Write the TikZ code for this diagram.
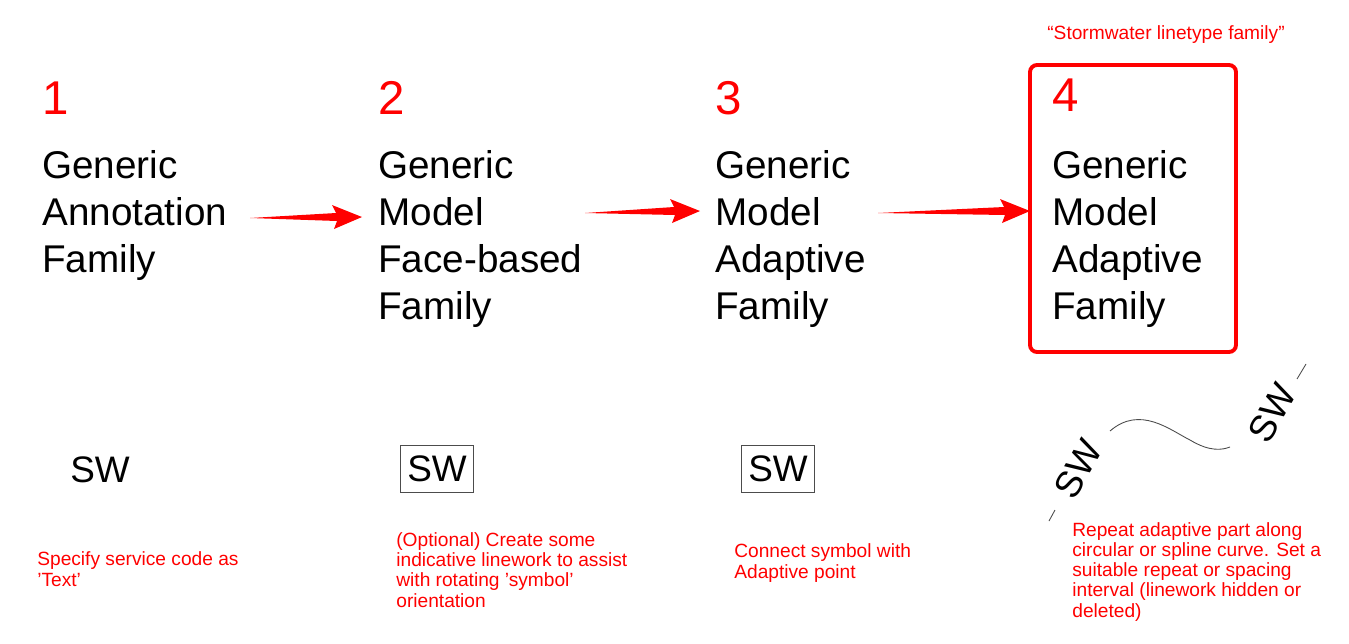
\documentclass[tikz,border=0pt]{standalone}
\usepackage{fontspec}
\setmainfont{Liberation Sans}
\usetikzlibrary{positioning}
\begin{document}
\begin{tikzpicture}
[
x=0.02cm,y=-0.02cm,
big/.style={anchor=base west,inner sep=0pt,align=left,font=\fontsize{22}{26.7}\selectfont},
num/.style={anchor=base west,inner sep=0pt,text=red,font=\fontsize{27}{30}\selectfont},
note/.style={anchor=base west,inner sep=0pt,align=left,text=red,font=\fontsize{10.9}{11.5}\selectfont},
sw/.style={inner sep=0pt,font=\fontsize{21}{24}\selectfont},
swbox/.style={sw,draw=black!70,line width=0.6pt,inner xsep=4pt,inner ysep=6pt},
fatarrow/.style={fill=red,draw=none},
]
\useasboundingbox (0,0) rectangle (1349,643);

%Headings
\node[num] (n1) at (42,114) {1};
\node[num] (n2) at (378,114) {2};
\node[num] (n3) at (715,114) {3};
\node[num] (n4) at (1052,111) {4};
\node[note] (title) at (1047,39) {``Stormwater linetype family''};

%Family names
\node[big] (f1) at (42,272) {Generic\\Annotation\\Family};
\node[big] (f2) at (378,319) {Generic\\Model\\Face-based\\Family};
\node[big] (f3) at (715,319) {Generic\\Model\\Adaptive\\Family};
\node[big] (f4) at (1052,319) {Generic\\Model\\Adaptive\\Family};
\draw[red,line width=2.2pt,rounded corners=4pt] (1030,65) rectangle (1236,352);

%Arrows
\coordinate (a1) at (250,218); \coordinate (b1) at (362,217);
\coordinate (a2) at (585,213); \coordinate (b2) at (700,211);
\coordinate (a3) at (878,213); \coordinate (b3) at (1030,211);
\foreach \s/\e in {a1/b1,a2/b2,a3/b3}{
  \fill[fatarrow] (\s) -- ([shift={(-26,-4)}]\e) -- ([shift={(-30,-12)}]\e) -- (\e)
    -- ([shift={(-28,12)}]\e) -- ([shift={(-25,4)}]\e) -- cycle;
}

%Symbols
\node[sw] (s1) at (100,470) {SW};
\node[swbox] (s2) at (437,469) {SW};
\node[swbox] (s3) at (778,469) {SW};
\node[sw,rotate=60] (s4a) at (1078,469) {SW};
\node[sw,rotate=60] (s4b) at (1272,413) {SW};
\draw[black!70,line width=0.5pt] (1110,431) .. controls (1140,405) and (1170,430) .. (1190,440) .. controls (1210,452) and (1222,450) .. (1230,447);
\draw[black!70,line width=0.5pt] (1049,521) -- (1055,510);
\draw[black!70,line width=0.5pt] (1297,379) -- (1306,364);

%Notes
\node[note] (t1) at (37,586) {Specify service code as\\'Text'};
\node[note] (t2) at (396,607) {(Optional) Create some\\indicative linework to assist\\with rotating 'symbol'\\orientation};
\node[note] (t3) at (734,578) {Connect symbol with\\Adaptive point};
\node[note] (t4) at (1072,617) {Repeat adaptive part along\\circular or spline curve. Set a\\suitable repeat or spacing\\interval (linework hidden or\\deleted)};
\end{tikzpicture}
\end{document}
